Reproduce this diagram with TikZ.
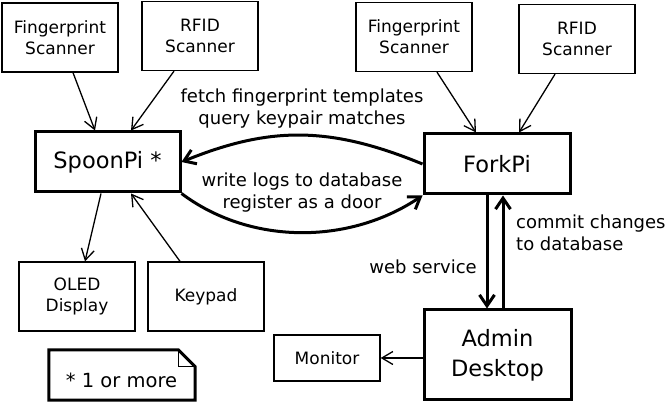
\documentclass[tikz,border=0pt]{standalone}
\usepackage{fontspec}
\setmainfont{DejaVu Sans}
\usetikzlibrary{arrows.meta}
\begin{document}
\begin{tikzpicture}[x=1pt,y=-1pt,
  smallbox/.style={draw, line width=1.3pt, minimum width=116pt, minimum height=69pt, inner sep=0pt, align=center, font=\fontsize{17}{21}\selectfont},
  bigbox/.style={draw, line width=3pt, inner sep=0pt, align=center, font=\fontsize{22.5}{30}\selectfont},
  thinarrow/.style={line width=1.3pt, -{Straight Barb[length=11pt,width=13pt]}},
  thickarrow/.style={line width=3pt, -{Straight Barb[length=11pt,width=15pt]}},
  lbl/.style={inner sep=0pt, align=center, font=\fontsize{18}{22}\selectfont}]
\useasboundingbox (0,0) rectangle (665,403);

% nodes
\node[smallbox] (fsL) at (60,37.5) {Fingerprint\\Scanner};
\node[smallbox] (rfL) at (200,36) {RFID\\Scanner};
\node[smallbox] (fsR) at (414,37) {Fingerprint\\Scanner};
\node[smallbox] (rfR) at (577,39) {RFID\\Scanner};
\node[bigbox, minimum width=145pt, minimum height=60pt] (spoon) at (107.5,162) {SpoonPi *};
\node[bigbox, minimum width=146pt, minimum height=60pt] (fork) at (497,164) {ForkPi};
\node[smallbox] (oled) at (77,296.5) {OLED\\Display};
\node[smallbox] (keypad) at (206,296.5) {Keypad};
\node[smallbox, minimum width=106pt, minimum height=46pt] (monitor) at (327,358) {Monitor};
\node[bigbox, minimum width=147pt, minimum height=90pt] (admin) at (497.5,355) {Admin\\Desktop};

% note
\node[inner sep=0pt, minimum width=146pt, minimum height=50pt] (note) at (122,375) {};
\node[inner sep=0pt, font=\fontsize{19.5}{22}\selectfont] (notetext) at (121.5,380) {* 1 or more};
\draw[line width=3pt, line join=miter]
  (note.north west) -- ([xshift=-17pt]note.north east) -- ([yshift=-17pt]note.north east)
  -- (note.south east) -- (note.south west) -- cycle;
\draw[line width=1.3pt] ([xshift=-17pt]note.north east) -- ([xshift=-17pt,yshift=-17pt]note.north east)
  -- ([yshift=-17pt]note.north east);

% thin connectors
\draw[thinarrow] ([xshift=13pt]fsL.south) -- ([xshift=-12.5pt]spoon.north);
\draw[thinarrow] ([xshift=-26pt]rfL.south) -- ([xshift=23.5pt]spoon.north);
\draw[thinarrow] ([xshift=23pt]fsR.south) -- ([xshift=-21pt]fork.north);
\draw[thinarrow] ([xshift=-22pt]rfR.south) -- ([xshift=22pt]fork.north);
\draw[thinarrow] ([xshift=-6.5pt]spoon.south) -- ([xshift=8pt]oled.north);
\draw[thinarrow] ([xshift=-26pt]keypad.north) -- ([xshift=23.5pt]spoon.south);
\draw[thinarrow] (admin.west |- monitor.east) -- (monitor.east);

% thick connectors
\draw[thickarrow] (fork.west) .. controls (330,126) and (270,126) .. (spoon.east);
\draw[thickarrow] (spoon.south east) .. controls (250,245) and (349,245) .. (fork.south west);
\draw[thickarrow] ([xshift=-10pt]fork.south) -- ([xshift=-10.5pt]admin.north);
\draw[thickarrow] ([xshift=5.5pt]admin.north) -- ([xshift=6pt]fork.south);

% labels
\node[lbl] (lfetch) at (302,109) {fetch fingerprint templates\\query keypair matches};
\node[lbl] (lwrite) at (302,192.5) {write logs to database\\register as a door};
\node[lbl, anchor=east] (lweb) at (477,267) {web service};
\node[lbl, anchor=west, align=left] (lcommit) at (516,232.5) {commit changes\\to database};
\end{tikzpicture}
\end{document}
